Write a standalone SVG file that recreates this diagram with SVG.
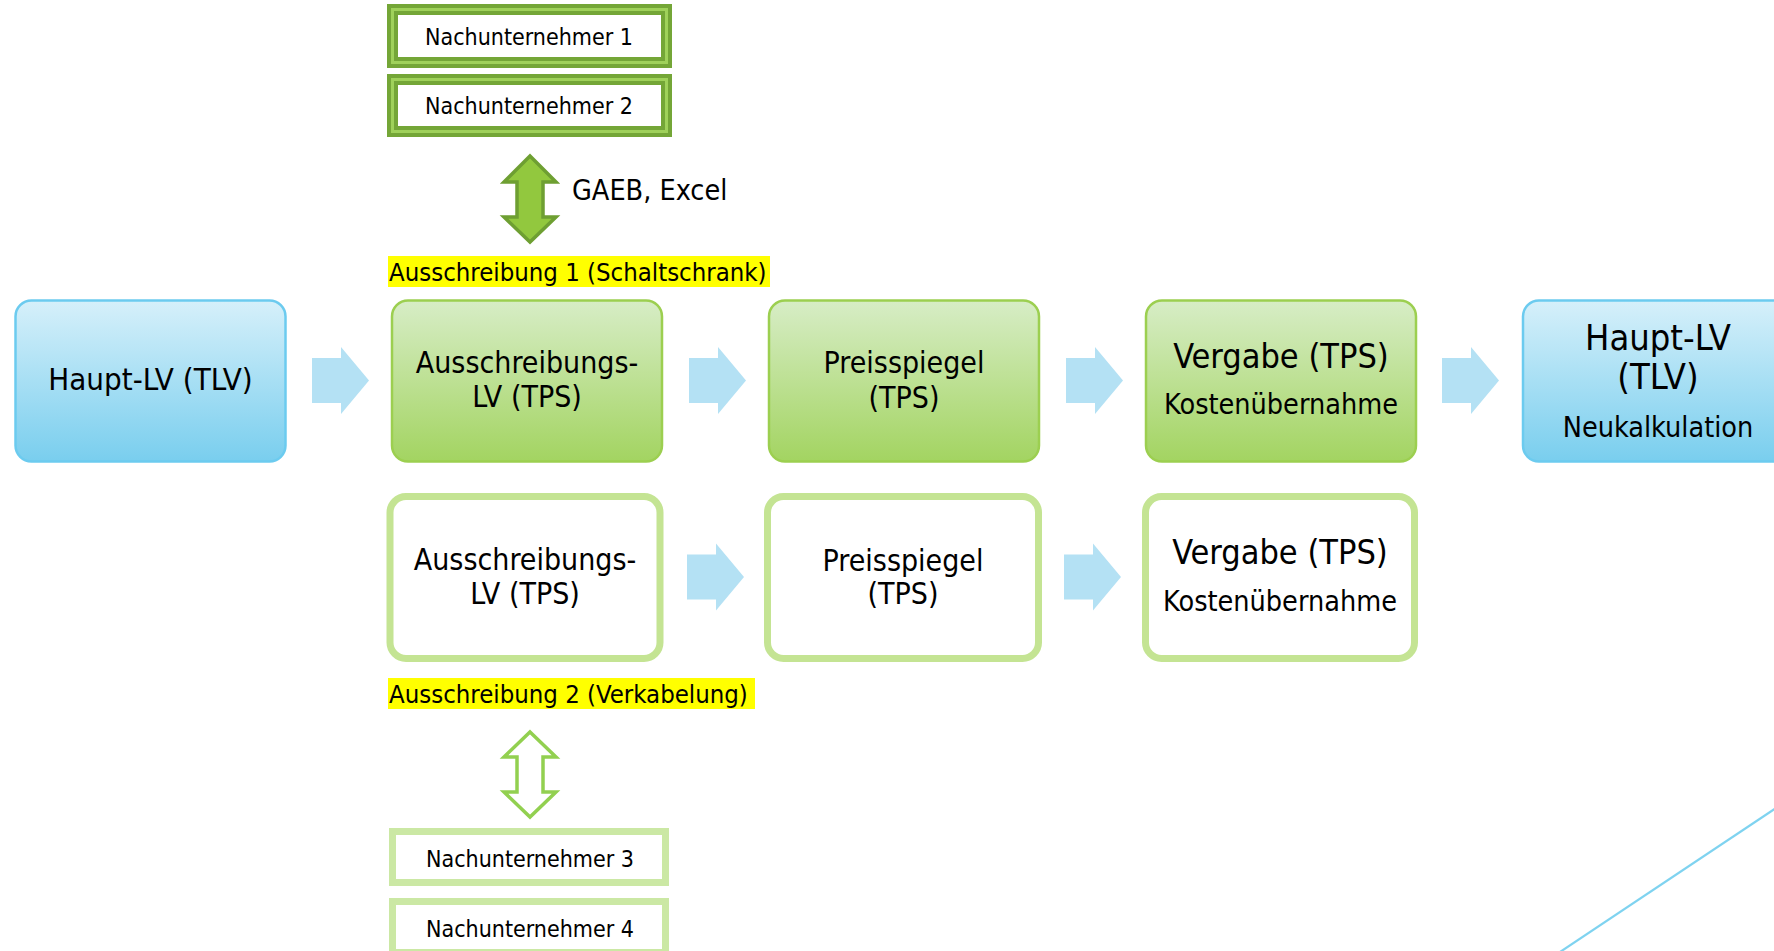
<svg xmlns="http://www.w3.org/2000/svg" width="1774" height="951" viewBox="0 0 1774 951">
<defs>
<linearGradient id="gGreen" x1="0" y1="0" x2="0" y2="1">
<stop offset="0" stop-color="#d7edc6"/>
<stop offset="1" stop-color="#a3d461"/>
</linearGradient>
<linearGradient id="gBlue" x1="0" y1="0" x2="0" y2="1">
<stop offset="0" stop-color="#d6f0fa"/>
<stop offset="1" stop-color="#79ceee"/>
</linearGradient>
<polygon id="blockArrow" points="0,-22.5 29,-22.5 29,-33.5 57,0 29,33.5 29,22.5 0,22.5"/>
</defs>
<style>
text{font-family:"DejaVu Sans Condensed","DejaVu Sans",sans-serif;font-stretch:condensed;fill:#000;text-anchor:middle}
.t30{font-size:30px}
.t31{font-size:31px}
.t34{font-size:34px}
.t36{font-size:36px}
.t28{font-size:28px}
.t285{font-size:28.5px}
.t23{font-size:23px}
.lbl{font-size:25.5px;text-anchor:start}
.gbox{fill:url(#gGreen);stroke:#9ccf50;stroke-width:2.5}
.bbox{fill:url(#gBlue);stroke:#6ccbef;stroke-width:2.5}
.obox{fill:#fff;stroke:#c4e493;stroke-width:7}
.nu1{fill:#fff;stroke:#74a637;stroke-width:11}
.nu1in{fill:none;stroke:#9fd15a;stroke-width:3}
.nu2{fill:#fff;stroke:#cbe8a4;stroke-width:7}
.barrow{fill:#b4e1f4}
.hl{fill:#ffff00}
</style>

<g id="nu1">
<rect class="nu1" x="392.5" y="9.5" width="274" height="53"/>
<rect class="nu1in" x="392.5" y="9.5" width="274" height="53"/>
<text class="t23" x="529" y="45">Nachunternehmer 1</text>
</g>
<g id="nu2">
<rect class="nu1" x="392.5" y="79.5" width="274" height="52"/>
<rect class="nu1in" x="392.5" y="79.5" width="274" height="52"/>
<text class="t23" x="529" y="114">Nachunternehmer 2</text>
</g>

<g id="label-gaeb">
<text class="t285" x="572" y="200" style="text-anchor:start">GAEB, Excel</text>
</g>

<g id="label-a1">
<rect class="hl" x="388" y="256" width="382" height="31"/>
<text class="lbl" x="389" y="281">Ausschreibung 1 (Schaltschrank)</text>
</g>

<g id="haupt-lv-left">
<rect class="bbox" x="15.5" y="300.5" width="270" height="161" rx="16"/>
<text class="t31" x="150.5" y="390">Haupt-LV (TLV)</text>
</g>

<g id="a1-lv">
<rect class="gbox" x="392" y="300.5" width="270" height="161" rx="16"/>
<text class="t30" x="527" y="373">Ausschreibungs-</text>
<text class="t30" x="527" y="407">LV (TPS)</text>
</g>
<g id="a1-preis">
<rect class="gbox" x="769" y="300.5" width="270" height="161" rx="16"/>
<text class="t30" x="904" y="373">Preisspiegel</text>
<text class="t30" x="904" y="408">(TPS)</text>
</g>
<g id="a1-vergabe">
<rect class="gbox" x="1146" y="300.5" width="270" height="161" rx="16"/>
<text class="t34" x="1281" y="368">Vergabe (TPS)</text>
<text class="t285" x="1281" y="414">Kostenübernahme</text>
</g>
<g id="haupt-lv-right">
<rect class="bbox" x="1523" y="300.5" width="270" height="161" rx="16"/>
<text class="t36" x="1658" y="350">Haupt-LV</text>
<text class="t36" x="1658" y="389">(TLV)</text>
<text class="t285" x="1658" y="437">Neukalkulation</text>
</g>

<g id="a2-lv">
<rect class="obox" x="390" y="496.5" width="270" height="162" rx="16"/>
<text class="t30" x="525" y="570">Ausschreibungs-</text>
<text class="t30" x="525" y="604">LV (TPS)</text>
</g>
<g id="a2-preis">
<rect class="obox" x="767.5" y="496.5" width="271" height="162" rx="16"/>
<text class="t30" x="903" y="571">Preisspiegel</text>
<text class="t30" x="903" y="604">(TPS)</text>
</g>
<g id="a2-vergabe">
<rect class="obox" x="1145.5" y="496.5" width="269" height="162" rx="16"/>
<text class="t34" x="1280" y="564">Vergabe (TPS)</text>
<text class="t285" x="1280" y="611">Kostenübernahme</text>
</g>

<g id="label-a2">
<rect class="hl" x="388" y="678" width="367" height="31"/>
<text class="lbl" x="389" y="703">Ausschreibung 2 (Verkabelung)</text>
</g>

<g id="nu3">
<rect class="nu2" x="392.5" y="831.5" width="273" height="51"/>
<text class="t23" x="530" y="867">Nachunternehmer 3</text>
</g>
<g id="nu4">
<rect class="nu2" x="392.5" y="901.5" width="273" height="51"/>
<text class="t23" x="530" y="937">Nachunternehmer 4</text>
</g>

<g id="connectors">
<use href="#blockArrow" class="barrow" x="312" y="380.5"/>
<use href="#blockArrow" class="barrow" x="689" y="380.5"/>
<use href="#blockArrow" class="barrow" x="1066" y="380.5"/>
<use href="#blockArrow" class="barrow" x="1442" y="380.5"/>
<use href="#blockArrow" class="barrow" x="687" y="577"/>
<use href="#blockArrow" class="barrow" x="1064" y="577"/>
<polygon points="530,156 556,182 543,182 543,217 556,217 530,242 504,217 517,217 517,182 504,182" fill="#92c83e" stroke="#6e9f32" stroke-width="3.5" stroke-linejoin="miter"/>
<polygon points="530,732 556,757 543,757 543,792 556,792 530,817 504,792 517,792 517,757 504,757" fill="#fff" stroke="#92d050" stroke-width="3.5" stroke-linejoin="miter"/>
</g>

<line x1="1560" y1="952" x2="1776" y2="808" stroke="#7fd3f0" stroke-width="2.2"/>
</svg>
